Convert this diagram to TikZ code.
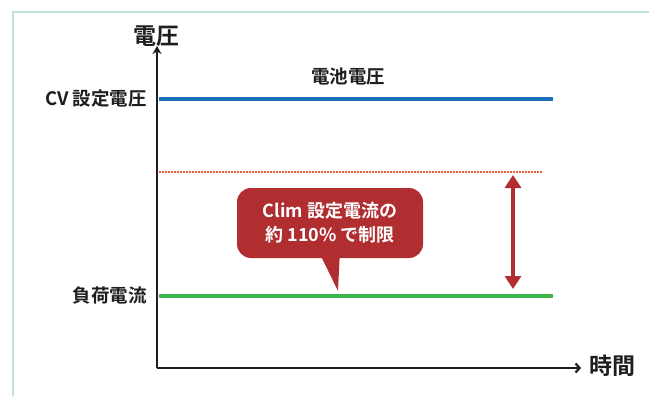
\documentclass[tikz,border=0pt]{standalone}
\usepackage{fontspec}
\setmainfont{NotoSansCJK-Bold.ttc}[FontIndex=0]
\usetikzlibrary{arrows.meta}
\definecolor{frameC}{HTML}{BFE3DA}
\definecolor{blueL}{HTML}{1B6FB9}
\definecolor{greenL}{HTML}{3DB54A}
\definecolor{redC}{HTML}{B02D30}
\definecolor{dotC}{HTML}{EE5A3A}
\definecolor{axisC}{HTML}{1E1E1E}
\tikzset{
  lbl/.style={font=\fontsize{18.5}{20}\selectfont, text=axisC, inner sep=0pt},
  axlbl/.style={font=\fontsize{23}{25}\selectfont, text=axisC, inner sep=0pt},
  lvl/.style={line width=4pt},
  axis/.style={line width=2.2pt, draw=axisC}
}
\begin{document}
\begin{tikzpicture}[x=1pt,y=-1pt]
\useasboundingbox (0,0) rectangle (649,396);
% frame
\draw[frameC, line width=1.2pt] (13,396) -- (13,12) -- (649,12);
% axes
\coordinate (o) at (157,368);
\coordinate (ytop) at (157,46);
\coordinate (xend) at (581,368);
\draw[axis, -{Stealth[length=8pt,width=9pt]}] (o) -- (ytop);
\draw[axis, -{Straight Barb[length=4pt,width=9pt,line width=2.2pt]}] (o) -- (xend);
\node[axlbl] (vlab) at (156,36) {電圧};
\node[axlbl, anchor=west] (tlab) at (589,366) {時間};
% levels
\coordinate (b1) at (159,99); \coordinate (b2) at (553,99);
\draw[lvl, blueL] (b1) -- (b2);
\node[lbl] (batt) at (348,77) {電池電圧};
\node[lbl, anchor=east] (cv) at (147,99) {CV 設定電圧};
\coordinate (r1) at (159,172); \coordinate (r2) at (542,172);
\draw[dotC, line width=1.2pt, dash pattern=on 1.5pt off 1.5pt] (r1) -- (r2);
\coordinate (g1) at (159,296); \coordinate (g2) at (553,296);
\draw[lvl, greenL] (g1) -- (g2);
\node[lbl, anchor=east] (load) at (147,296) {負荷電流};
% double arrow
\coordinate (a1) at (513,175); \coordinate (a2) at (513,289);
\draw[redC, line width=4pt, {Triangle[length=13pt,width=16pt]}-{Triangle[length=13pt,width=16pt]}] (a1) -- (a2);
% callout
\fill[redC] (318,250) -- (340,250) -- (338,291) -- cycle;
\node[fill=redC, rounded corners=14pt, minimum width=186pt, minimum height=70pt, inner sep=0pt,
      text=white, font=\fontsize{18}{24}\selectfont, align=center] (call) at (330,223)
      {Clim 設定電流の\\約 110\% で制限};
\end{tikzpicture}
\end{document}
